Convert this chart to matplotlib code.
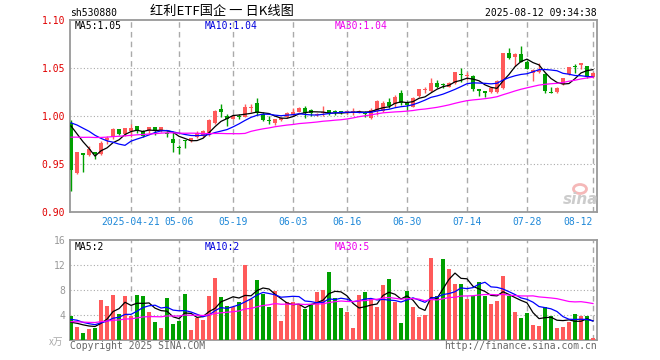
import pandas as pd
import matplotlib
matplotlib.use("Agg")
import matplotlib.pyplot as plt
from matplotlib.patches import Ellipse

# -----------------------------------
# Data (sh530880), 2025-04-07 .. 2025-08-12
# -----------------------------------

date_idx = [10, 18, 27, 37, 46, 56, 66, 76, 87]
date_labels = ["2025-04-21", "05-06", "05-19", "06-03", "06-16",
               "06-30", "07-14", "07-28", "08-12"]

opens = [0.993, 0.941, 0.9615, 0.959, 0.962, 0.960, 0.975, 0.978, 0.986, 0.981,
         0.984, 0.9895, 0.984, 0.984, 0.989, 0.985, 0.9815, 0.976, 0.9675, 0.9745,
         0.974, 0.978, 0.979, 0.980, 0.993, 1.0073, 1.000, 0.997, 1.000, 0.9993,
         1.008, 1.0139, 1.002, 0.9952, 0.9924, 0.9958, 0.9993, 1.001, 1.0045, 1.008,
         1.006, 1.001, 1.003, 1.006, 1.0042, 1.005, 1.004, 1.0045, 1.0035, 1.0025,
         0.9976, 1.0056, 1.0056, 1.015, 1.012, 1.0236, 1.0139, 1.0097, 1.0208, 1.027,
         1.026, 1.0347, 1.033, 1.0305, 1.034, 1.043, 1.0413, 1.0417, 1.0278, 1.026,
         1.0253, 1.0253, 1.0288, 1.066, 1.0611, 1.0646, 1.0566, 1.0451, 1.046, 1.0437,
         1.0247, 1.0247, 1.033, 1.0437, 1.0517, 1.0535, 1.052, 1.041]
closes = [0.944, 0.962, 0.959, 0.966, 0.960, 0.972, 0.977, 0.986, 0.981, 0.9875,
          0.9875, 0.984, 0.979, 0.989, 0.985, 0.989, 0.981, 0.972, 0.967, 0.974,
          0.977, 0.982, 0.984, 0.996, 1.0055, 1.0045, 0.9965, 1.000, 0.9986, 1.0097,
          1.009, 1.0035, 0.9958, 0.9948, 0.9965, 0.9983, 1.0028, 1.0045, 1.0087, 1.0028,
          1.0035, 1.002, 1.0035, 1.003, 1.0038, 1.003, 1.0045, 1.005, 1.0056, 1.002,
          1.006, 1.0156, 1.0139, 1.0104, 1.020, 1.0139, 1.0115, 1.019, 1.0278, 1.0274,
          1.0347, 1.0305, 1.0325, 1.0347, 1.0455, 1.0425, 1.0417, 1.0278, 1.026, 1.0243,
          1.0295, 1.0365, 1.066, 1.060, 1.0646, 1.0566, 1.049, 1.048, 1.048, 1.026,
          1.0243, 1.0288, 1.0392, 1.0507, 1.0514, 1.054, 1.041, 1.0445]
highs = [0.996, 0.963, 0.9615, 0.969, 0.962, 0.974, 0.979, 0.987, 0.986, 0.988,
         0.992, 0.990, 0.985, 0.989, 0.989, 0.989, 0.984, 0.983, 0.970, 0.975,
         0.977, 0.984, 0.985, 0.997, 1.006, 1.0125, 1.002, 1.001, 1.0017, 1.013,
         1.013, 1.019, 1.0045, 1.000, 0.997, 0.9993, 1.0038, 1.008, 1.009, 1.0104,
         1.007, 1.003, 1.0104, 1.0065, 1.006, 1.0055, 1.0055, 1.008, 1.006, 1.005,
         1.008, 1.0167, 1.016, 1.0184, 1.022, 1.027, 1.0156, 1.020, 1.0285, 1.0305,
         1.040, 1.0375, 1.0347, 1.035, 1.0455, 1.0497, 1.046, 1.0427, 1.028, 1.026,
         1.0305, 1.0375, 1.066, 1.0705, 1.066, 1.073, 1.058, 1.0486, 1.055, 1.0445,
         1.0306, 1.0298, 1.040, 1.0514, 1.0538, 1.0555, 1.052, 1.046]
lows = [0.922, 0.940, 0.942, 0.958, 0.955, 0.959, 0.971, 0.976, 0.980, 0.979,
        0.978, 0.9825, 0.978, 0.982, 0.980, 0.983, 0.978, 0.963, 0.960, 0.967,
        0.973, 0.977, 0.978, 0.979, 0.992, 0.9993, 0.990, 0.9965, 0.9965, 0.999,
        1.004, 1.001, 0.9948, 0.9917, 0.991, 0.995, 0.9983, 1.000, 1.004, 0.998,
        1.000, 0.9995, 1.000, 1.001, 1.001, 1.0025, 1.002, 1.001, 1.003, 0.9993,
        0.9965, 1.001, 1.0045, 1.008, 1.0097, 1.0115, 1.006, 1.009, 1.020, 1.0236,
        1.0255, 1.029, 1.029, 1.030, 1.033, 1.0358, 1.0375, 1.0264, 1.021, 1.020,
        1.0243, 1.0243, 1.0278, 1.059, 1.052, 1.056, 1.0486, 1.0368, 1.0444, 1.0236,
        1.0236, 1.0236, 1.0325, 1.0427, 1.0445, 1.0486, 1.040, 1.040]

# volume in 万 (10k) units
volumes = [3.89, 2.08, 1.17, 1.76, 1.92, 6.4, 5.44, 7.2, 4.11, 7.04,
           3.89, 7.2, 7.04, 4.48, 2.88, 1.92, 6.72, 2.56, 3.04, 7.36,
           1.6, 3.52, 3.2, 7.04, 9.92, 6.88, 5.44, 5.28, 6.08, 12.0,
           6.56, 9.6, 7.36, 5.28, 7.84, 3.04, 6.08, 6.08, 5.6, 4.96,
           5.6, 7.68, 8.0, 10.88, 6.77, 5.17, 4.53, 1.97, 7.2, 7.73,
           6.56, 5.33, 8.8, 9.76, 6.13, 2.77, 7.84, 5.33, 3.73, 4.0,
           13.17, 6.99, 12.96, 11.41, 9.01, 8.96, 6.61, 6.99, 9.28, 6.99,
           5.81, 6.24, 10.29, 7.09, 4.53, 3.52, 4.32, 2.45, 2.29, 5.28,
           3.89, 1.92, 2.13, 2.88, 4.16, 3.89, 3.89, 0.35]

# sessions before the window (estimated), only feed the moving averages
prev_closes = [0.962, 0.965, 0.963, 0.968, 0.970, 0.967, 0.969, 0.972, 0.974, 0.971,
               0.968, 0.970, 0.973, 0.975, 0.972, 0.970, 0.973, 0.976, 0.978, 0.974,
               0.985, 0.992, 0.998, 1.002, 1.004, 1.003, 1.000, 1.001, 1.000]
prev_volumes = [2.4, 2.9, 3.1, 2.6, 2.2, 2.8, 3.3, 2.5, 2.7, 3.0,
                2.6, 2.4, 2.9, 3.2, 2.7, 2.5, 2.8, 3.1, 2.6, 2.7,
                3.4, 4.6, 3.9, 3.5, 3.4, 2.9, 2.4, 2.7, 2.3]

price_ma_text = ["MA5:1.05", "MA10:1.04", "MA30:1.04"]
vol_ma_text = ["MA5:2", "MA10:2", "MA30:5"]

# -----------------------------------
# Moving averages
# -----------------------------------

n_prev = len(prev_closes)
close_all = pd.Series(prev_closes + closes)
vol_all = pd.Series(prev_volumes + volumes)
price_ma = {w: close_all.rolling(w).mean().iloc[n_prev:].values for w in (5, 10, 30)}
vol_ma = {w: vol_all.rolling(w).mean().iloc[n_prev:].values for w in (5, 10, 30)}

x = list(range(len(closes)))
RED = "#ff5a5a"
GREEN = "#00a000"
colors = [RED if c >= o else GREEN for o, c in zip(opens, closes)]
ma_colors = {5: "black", 10: "#0000ff", 30: "#ff00ff"}
label_colors = ["black", "#0000dd", "#ee00ee"]
MONO = "DejaVu Sans Mono"
W, H = 660, 360

fig = plt.figure(figsize=(6.6, 3.6), dpi=100)
ax = fig.add_axes([70 / W, 1 - 212 / H, 527 / W, 192 / H])
axv = fig.add_axes([70 / W, 1 - 340 / H, 527 / W, 100 / H])

# -----------------------------------
# Price panel
# -----------------------------------

bottoms = [min(o, c) for o, c in zip(opens, closes)]
heights = [max(abs(c - o), 0.0012) for o, c in zip(opens, closes)]
ax.vlines(x, lows, highs, colors=colors, lw=1.0, zorder=3)
ax.bar(x, heights, bottom=bottoms, width=0.8, color=colors, zorder=3)
for w in (5, 10, 30):
    ax.plot(x, price_ma[w], color=ma_colors[w], lw=0.9, zorder=4)

ax.set_ylim(0.90, 1.10)
ax.set_yticks([0.90, 0.95, 1.00, 1.05, 1.10])
ax.set_yticklabels(["0.90", "0.95", "1.00", "1.05", "1.10"], color="#e00000",
                   fontfamily=MONO, fontsize=7)
for yv in (0.95, 1.00, 1.05):
    ax.axhline(yv, color="#aaaaaa", lw=0.8, ls=(0, (1, 2)), zorder=1)

ax.set_xticks(date_idx)
ax.set_xticklabels(date_labels, color="#1e88d8", fontfamily=MONO, fontsize=7)
ax.get_xticklabels()[-1].set_horizontalalignment("right")
ax.tick_params(length=0, pad=3.5)

for i, t in enumerate(price_ma_text):
    ax.text([75, 205, 335][i] / W, 1 - 26 / H, t, transform=fig.transFigure,
            color=label_colors[i], fontfamily=MONO, fontsize=7, va="center")

# -----------------------------------
# Volume panel
# -----------------------------------

axv.bar(x, volumes, width=0.8, color=colors, zorder=3)
for w in (5, 10, 30):
    axv.plot(x, vol_ma[w], color=ma_colors[w], lw=0.9, zorder=4)

axv.set_ylim(0, 16)
axv.set_yticks([4, 8, 12, 16])
axv.set_yticklabels(["4", "8", "12", "16"], color="#999999", fontfamily=MONO, fontsize=7)
axv.set_xticks([])
axv.tick_params(length=0, pad=3.5)
for yv in (4, 8, 12):
    axv.axhline(yv, color="#aaaaaa", lw=0.8, ls=(0, (1, 2)), zorder=1)

for i, t in enumerate(vol_ma_text):
    fig.text([75, 205, 335][i] / W, 1 - 246.5 / H, t, color=label_colors[i],
             fontfamily=MONO, fontsize=7, va="center")

# -----------------------------------
# Shared frame / grid
# -----------------------------------

for a in (ax, axv):
    a.set_xlim(-0.17, 87.67)
    for xi in date_idx:
        a.axvline(xi, color="#aaaaaa", lw=1.0, ls=(0, (4, 3)), zorder=1)
    for s in a.spines.values():
        s.set_color("#999999")
        s.set_linewidth(1.3)

# -----------------------------------
# Titles and footer
# -----------------------------------

fig.text(70 / W, 1 - 13 / H, "sh530880", fontfamily=MONO, fontsize=7, va="center")
fig.text(222 / W, 1 - 12 / H, "红利ETF国企 一 日K线图", fontsize=9.5, va="center", ha="center",
         family=["Noto Sans CJK SC", "DejaVu Sans"])
fig.text(597 / W, 1 - 13 / H, "2025-08-12 09:34:38", fontfamily=MONO, fontsize=7,
         va="center", ha="right")
fig.text(63 / W, 1 - 342 / H, "x万", color="#aaaaaa", fontsize=7, va="center", ha="right",
         style="italic", family=["Noto Sans CJK SC", "DejaVu Sans"])
fig.text(70 / W, 1 - 346 / H, "Copyright 2025 SINA.COM", color="#666666",
         fontfamily=MONO, fontsize=7, va="center")
fig.text(597 / W, 1 - 346 / H, "http://finance.sina.com.cn", color="#666666",
         fontfamily=MONO, fontsize=7, va="center", ha="right")

# sina watermark
fig.patches.append(Ellipse((580 / W, 1 - 189 / H), 13 / W, 9 / H, transform=fig.transFigure,
                           facecolor="none", edgecolor="#f5b8b8", lw=2))
fig.text(581 / W, 1 - 199 / H, "sina", color="#cccccc", fontsize=11, style="italic",
         weight="bold", va="center", ha="center")

plt.savefig("out.png")
plt.close()
